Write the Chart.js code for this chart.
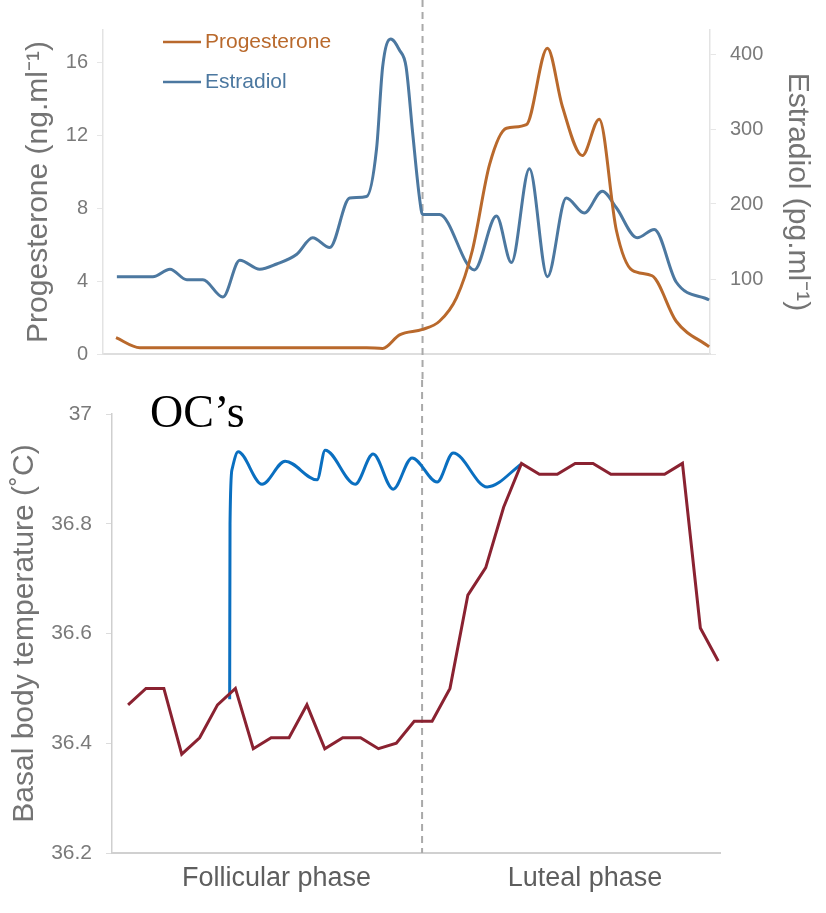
<!DOCTYPE html>
<html>
<head>
<meta charset="utf-8">
<script src="https://cdn.jsdelivr.net/npm/chart.js@4.4.1/dist/chart.umd.min.js"></script>
<style>
  html, body { margin: 0; padding: 0; background: #fff; }
  #wrap { position: relative; width: 826px; height: 913px; }
  #hormones { position: absolute; left: 0; top: 0; }
  #bbt { position: absolute; left: 0; top: 380px; }
</style>
</head>
<body>
<div id="wrap">
  <canvas id="hormones" width="826" height="380"></canvas>
  <canvas id="bbt" width="826" height="533"></canvas>
</div>
<script>
// ----------------------------------------
// DATA
// ----------------------------------------

// Progesterone, ng/ml (left axis), by cycle day
const PROG_DAYS = [0.6, 1.7, 12.16, 12.9, 13.68, 14.74, 15.52, 16.31, 17.04, 17.83, 18.61, 19.53, 20.5, 21.19, 22.11, 22.89, 23.68, 24.41, 25.33, 26.44, 27.96];
const PROG_VALUES = [0.9, 0.35, 0.35, 0.3, 1.05, 1.35, 1.8, 3.1, 5.7, 10.4, 12.4, 12.6, 16.8, 13.6, 10.9, 12.9, 6.8, 4.6, 4.3, 1.8, 0.4];

// Estradiol, pg/ml (right axis), by cycle day
const E2_DAYS = [0.64, 2.3, 3.09, 3.87, 4.61, 5.53, 6.31, 7.23, 8.01, 8.94, 9.67, 10.46, 11.38, 12.16, 12.62, 12.9, 13.27, 13.68, 13.98, 14.28, 14.6, 14.74, 15.52, 17.13, 18.15, 18.84, 19.67, 20.5, 21.37, 22.2, 23.03, 23.68, 24.64, 25.43, 26.44, 27.96];
const E2_VALUES = [103, 103, 113, 99, 99, 76, 125, 113, 120, 133, 155, 142, 208, 210, 274, 383, 420, 405, 383, 296, 208, 186, 186, 112, 184, 122, 247, 103, 208, 188, 217, 195, 155, 166, 96, 72];

// Basal body temperature, degrees C, one reading per day
const BBT_DAYS = [1, 2, 3, 4, 5, 6, 7, 8, 9, 10, 11, 12, 13, 14, 15, 16, 17, 18, 19, 20, 21, 22, 23, 24, 25, 26, 27, 28, 29, 30, 31, 32, 33, 34];
const BBT_VALUES = [36.47, 36.5, 36.5, 36.38, 36.41, 36.47, 36.5, 36.39, 36.41, 36.41, 36.47, 36.39, 36.41, 36.41, 36.39, 36.4, 36.44, 36.44, 36.5, 36.67, 36.72, 36.83, 36.91, 36.89, 36.89, 36.91, 36.91, 36.89, 36.89, 36.89, 36.89, 36.91, 36.61, 36.55];

// Hand drawn "OC's" temperature curve
const OC_DAYS = [6.68, 6.7, 6.82, 7.15, 8.49, 9.78, 11.57, 12.02, 13.7, 14.7, 15.82, 16.88, 18.28, 19.18, 21.08, 23.04];
const OC_VALUES = [36.48, 36.8, 36.9, 36.931, 36.872, 36.914, 36.88, 36.934, 36.872, 36.927, 36.863, 36.92, 36.876, 36.929, 36.867, 36.91];

// Phase labels under the temperature chart
const PHASE_LABELS = ['Follicular phase', 'Luteal phase'];
const PHASE_DAYS = [9.3, 26.55];

// Ovulation marker (dashed line) in each chart's day units
const HORMONE_OVULATION_DAY = 14.74;
const BBT_OVULATION_DAY = 17.44;

const FONT_FAMILY = "'Liberation Sans', Arial, sans-serif";
const TICK_FONT = { family: FONT_FAMILY, size: 20 };
const TITLE_FONT = { family: FONT_FAMILY, size: 30 };
const TICK_COLOR = '#7a7a7a';
const TITLE_COLOR = '#747474';

function toPoints(days, values) {
    return days.map((d, i) => ({ x: d, y: values[i] }));
}

// ----------------------------------------
// PLUGINS
// ----------------------------------------

// Dashed vertical ovulation line
const ovulationLine = {
    id: 'ovulationLine',
    beforeDatasetsDraw(chart, args, opts) {
        const x = chart.scales.x.getPixelForValue(opts.value);
        const ctx = chart.ctx;
        const bottom = opts.toCanvasBottom ? chart.height : chart.chartArea.bottom;
        ctx.save();
        ctx.strokeStyle = '#a9a9a9';
        ctx.lineWidth = 2;
        ctx.setLineDash([7, 5]);
        ctx.beginPath();
        ctx.moveTo(x, 0);
        ctx.lineTo(x, bottom);
        ctx.stroke();
        ctx.restore();
    }
};

// Legend drawn inside the plot area, one entry per row
const insideLegend = {
    id: 'insideLegend',
    afterDatasetsDraw(chart, args, opts) {
        const ctx = chart.ctx;
        ctx.save();
        ctx.font = opts.font;
        ctx.textBaseline = 'middle';
        chart.data.datasets.forEach((ds, i) => {
            const y = opts.y + i * opts.rowGap;
            ctx.strokeStyle = ds.borderColor;
            ctx.lineWidth = 2.5;
            ctx.beginPath();
            ctx.moveTo(opts.x, y);
            ctx.lineTo(opts.x + opts.lineLength, y);
            ctx.stroke();
            ctx.fillStyle = ds.borderColor;
            ctx.fillText(ds.label, opts.x + opts.lineLength + 4, y);
        });
        ctx.restore();
    }
};

// Free text annotation
const textNote = {
    id: 'textNote',
    afterDraw(chart, args, opts) {
        const ctx = chart.ctx;
        ctx.save();
        ctx.font = opts.font;
        ctx.fillStyle = opts.color;
        ctx.textBaseline = 'alphabetic';
        ctx.fillText(opts.text, opts.x, opts.y);
        ctx.restore();
    }
};

// ----------------------------------------
// TOP CHART: progesterone + estradiol
// ----------------------------------------
new Chart(document.getElementById('hormones'), {
    type: 'line',
    data: {
        datasets: [
            {
                label: 'Progesterone',
                data: toPoints(PROG_DAYS, PROG_VALUES),
                borderColor: '#B9692C',
                yAxisID: 'y'
            },
            {
                label: 'Estradiol',
                data: toPoints(E2_DAYS, E2_VALUES),
                borderColor: '#4C78A0',
                yAxisID: 'y1'
            }
        ]
    },
    options: {
        responsive: false,
        animation: false,
        layout: { padding: { top: 30, left: 17, right: 7, bottom: 0 } },
        elements: {
            point: { radius: 0 },
            line: { borderWidth: 3, cubicInterpolationMode: 'monotone' }
        },
        plugins: {
            legend: { display: false },
            tooltip: { enabled: false },
            ovulationLine: { value: HORMONE_OVULATION_DAY, toCanvasBottom: true },
            insideLegend: {
                x: 163, y: 42, rowGap: 40, lineLength: 38,
                font: "21px 'Liberation Sans', Arial, sans-serif"
            }
        },
        scales: {
            x: {
                type: 'linear',
                min: 0,
                max: 28,
                ticks: { display: false },
                grid: { drawOnChartArea: false, drawTicks: false },
                border: { color: '#dedede', width: 2 },
                afterFit: s => { s.height = 22; }
            },
            y: {
                position: 'left',
                min: 0,
                max: 17.8,
                ticks: { stepSize: 4, includeBounds: false, padding: 9, color: TICK_COLOR, font: TICK_FONT },
                grid: { drawOnChartArea: false, tickLength: 6, color: '#e6e6e6' },
                border: { color: '#e3e3e3', width: 1.5 },
                title: { display: true, text: 'Progesterone (ng.ml⁻¹)', color: TITLE_COLOR, font: TITLE_FONT },
                afterFit: s => { s.width = 86; }
            },
            y1: {
                position: 'right',
                min: 0,
                max: 432,
                ticks: {
                    stepSize: 100, includeBounds: false, padding: 14, color: TICK_COLOR, font: TICK_FONT,
                    callback: v => (v === 0 ? '' : v)
                },
                grid: { drawOnChartArea: false, tickLength: 6, color: '#e6e6e6' },
                border: { color: '#e3e3e3', width: 1.5 },
                title: { display: true, text: 'Estradiol (pg.ml⁻¹)', color: TITLE_COLOR, font: TITLE_FONT },
                afterFit: s => { s.width = 109; }
            }
        }
    },
    plugins: [ovulationLine, insideLegend]
});

// ----------------------------------------
// BOTTOM CHART: basal body temperature
// ----------------------------------------
new Chart(document.getElementById('bbt'), {
    type: 'line',
    data: {
        datasets: [
            {
                label: 'Basal body temperature',
                data: toPoints(BBT_DAYS, BBT_VALUES),
                borderColor: '#8A2231',
                borderWidth: 3,
                tension: 0
            },
            {
                label: "OC's",
                data: toPoints(OC_DAYS, OC_VALUES),
                borderColor: '#0A6FC0',
                borderWidth: 3,
                cubicInterpolationMode: 'monotone'
            }
        ]
    },
    options: {
        responsive: false,
        animation: false,
        layout: { padding: { top: 34, left: 3, right: 106, bottom: 0 } },
        elements: { point: { radius: 0 } },
        plugins: {
            legend: { display: false },
            tooltip: { enabled: false },
            ovulationLine: { value: BBT_OVULATION_DAY, toCanvasBottom: false },
            textNote: {
                text: 'OC’s', x: 150, y: 47, color: '#000',
                font: "46px 'Liberation Serif', 'Times New Roman', serif"
            }
        },
        scales: {
            x: {
                type: 'linear',
                min: 0.1,
                max: 34.1,
                afterBuildTicks: s => { s.ticks = PHASE_DAYS.map(v => ({ value: v })); },
                ticks: {
                    autoSkip: false, maxRotation: 0, padding: 9,
                    color: '#5e5e5e',
                    font: { family: FONT_FAMILY, size: 27 },
                    callback: (v, i) => PHASE_LABELS[i]
                },
                grid: { drawOnChartArea: false, drawTicks: false },
                border: { color: '#d0d0d0', width: 2 },
                afterFit: s => { s.height = 60; }
            },
            y: {
                min: 36.2,
                max: 37,
                ticks: {
                    stepSize: 0.2, padding: 14, color: TICK_COLOR,
                    font: { family: FONT_FAMILY, size: 21 },
                    callback: v => String(+v.toFixed(1))
                },
                grid: { drawOnChartArea: false, tickLength: 6, color: '#dcdcdc' },
                border: { color: '#cfcfcf', width: 1.5 },
                title: {
                    display: true, text: 'Basal body temperature (˚C)', color: TITLE_COLOR,
                    font: { family: FONT_FAMILY, size: 30 }
                },
                afterFit: s => { s.width = 109; }
            }
        }
    },
    plugins: [ovulationLine, textNote]
});
</script>
</body>
</html>
